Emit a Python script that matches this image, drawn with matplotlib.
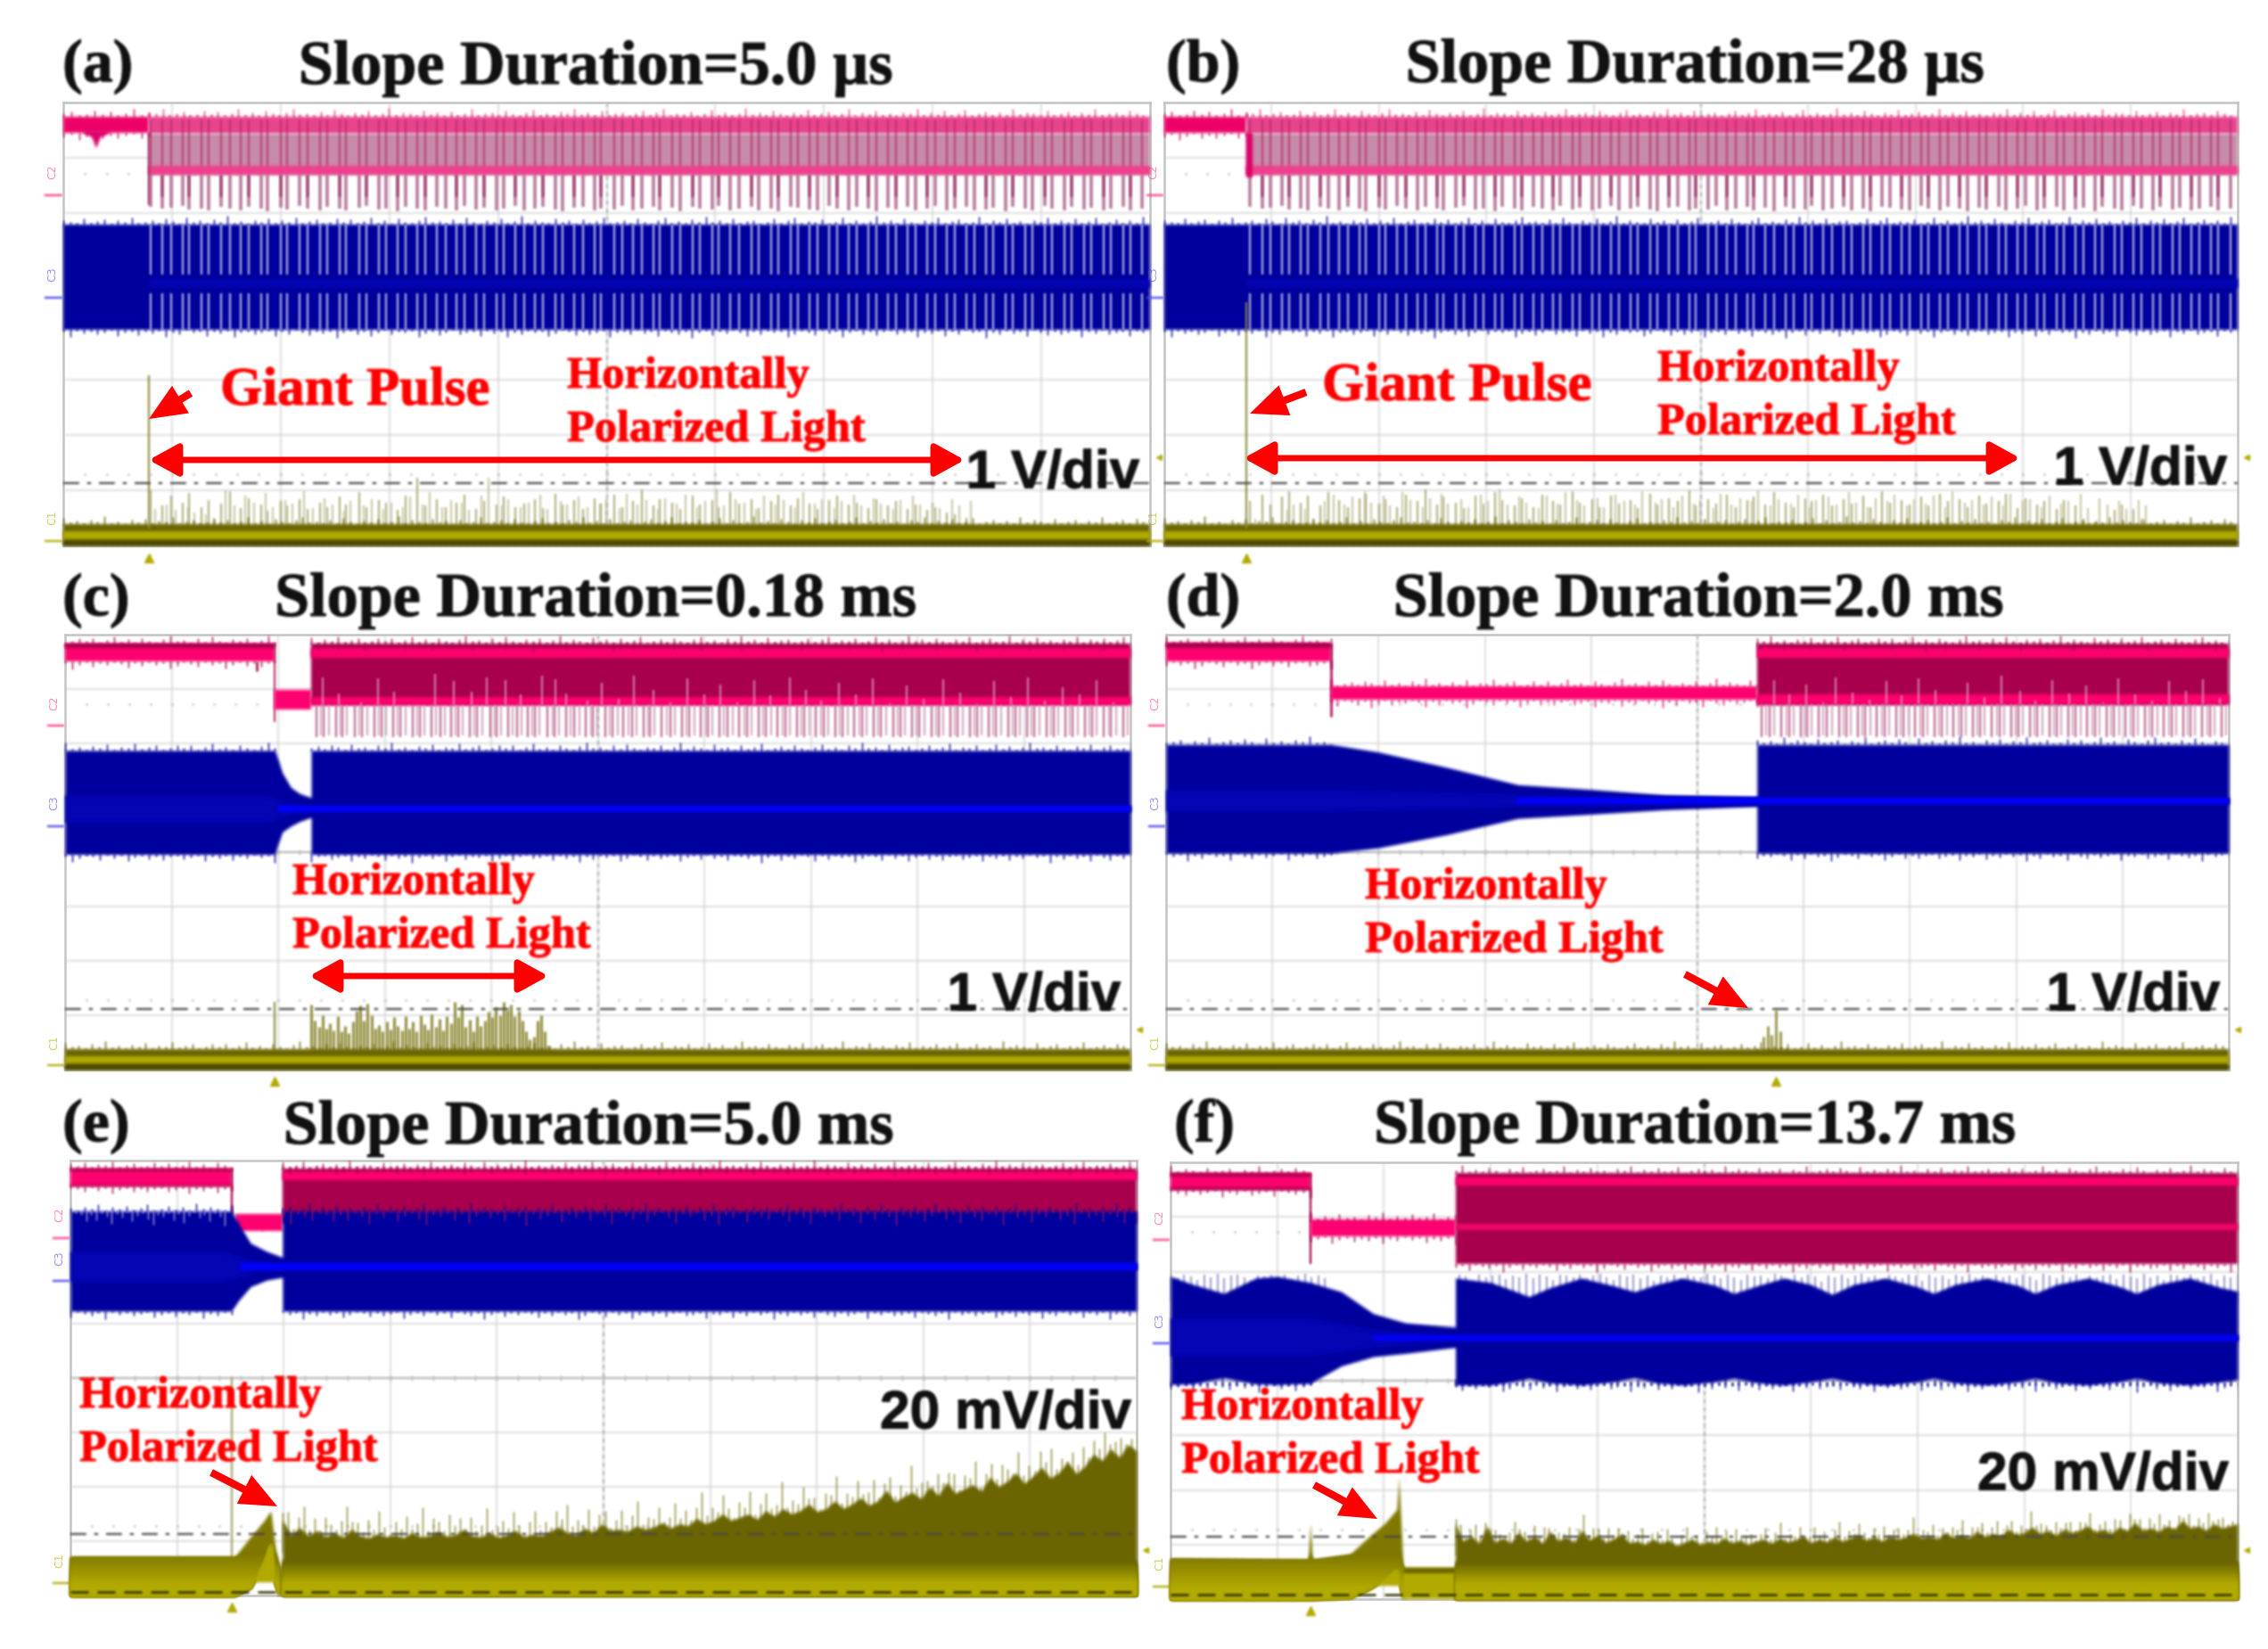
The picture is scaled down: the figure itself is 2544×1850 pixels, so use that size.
import numpy as np
import matplotlib
matplotlib.use('Agg')
import matplotlib.pyplot as plt
import matplotlib.patheffects as pe
from matplotlib.colors import to_rgb
from matplotlib.patches import FancyArrowPatch

W, H = 2544, 1850

# all trace values are in scope divisions: x 0-10 from left, y 0-8 from top
comb_x = [0.80,0.91,0.99,1.10,1.16,1.27,1.34,1.45,1.53,1.63,1.71,1.82,1.88,2.00,2.06,2.17,2.25,2.36,2.43,2.54,
          2.60,2.72,2.79,2.90,2.97,3.08,3.15,3.26,3.33,3.44,3.52,3.62,3.69,3.80,3.87,3.99,4.05,4.16,4.24,4.34,
          4.41,4.53,4.59,4.70,4.78,4.89,4.95,5.07,5.14,5.24,5.32,5.43,5.49,5.60,5.68,5.79,5.86,5.97,6.03,6.14,
          6.22,6.33,6.40,6.51,6.58,6.69,6.76,6.87,6.94,7.05,7.12,7.23,7.30,7.41,7.48,7.59,7.66,7.77,7.84,7.95,
          8.02,8.13,8.20,8.31,8.38,8.49,8.56,8.67,8.74,8.85,8.92,9.03,9.10,9.21,9.28,9.39,9.46,9.57,9.64,9.75,
          9.82,9.93]
pink_tail = [1.88,1.92,1.90,1.86,1.93,1.91,1.95,1.89,1.92,1.94,1.88,1.91,1.96,1.90,1.93,1.87,1.92,1.95,1.89,1.91,
             1.94,1.90,1.86,1.93,1.92,1.96,1.88,1.91,1.94,1.89,1.92,1.95,1.87,1.93,1.90,1.94,1.91,1.86,1.95,1.92,
             1.89,1.93,1.96,1.90,1.88,1.94,1.91,1.93,1.87,1.95,1.92,1.89,1.94,1.90,1.96,1.88,1.92,1.93,1.86,1.95,
             1.91,1.89,1.94,1.92,1.96,1.88,1.90,1.93,1.95,1.87,1.92,1.94,1.89,1.91,1.96,1.90,1.93,1.88,1.95,1.92,
             1.86,1.94,1.91,1.89,1.95,1.93,1.90,1.96,1.88,1.92,1.94,1.87,1.91,1.95,1.89,1.93,1.90,1.94,1.92,1.88,
             1.95,1.91]
# scope noise sticking out of the trace edges
edge_fuzz = [0.04,0.09,0.02,0.06,0.13,0.03,0.07,0.01,0.10,0.05,0.02,0.08,0.14,0.04,0.06,0.02,0.09,0.03,0.12,0.05,
             0.01,0.07,0.04,0.10,0.02,0.06,0.15,0.03,0.08,0.05,0.02,0.11,0.04,0.07,0.01,0.09,0.03,0.06,0.13,0.02,
             0.05,0.08,0.03,0.10,0.04,0.01,0.07,0.12,0.03,0.06,0.02,0.09,0.05,0.14,0.04,0.07,0.02,0.11,0.03,0.06,
             0.08,0.01,0.05,0.10,0.03,0.07,0.13,0.02,0.06,0.04,0.09,0.01,0.05,0.12,0.03,0.08,0.02,0.06,0.15,0.04,
             0.07,0.03,0.10,0.05,0.01,0.08,0.04,0.12,0.02,0.06,0.09,0.03,0.05,0.14,0.02,0.07,0.04,0.11,0.03,0.06,
             0.01,0.08,0.05,0.13,0.02,0.07,0.04,0.10,0.03,0.06,0.12,0.01,0.05,0.09,0.03,0.07,0.02,0.14,0.04,0.08,
             0.05,0.02,0.11,0.03,0.06,0.09,0.01,0.07,0.04,0.13,0.02,0.05,0.08,0.03,0.10,0.06,0.01,0.12,0.04,0.07,
             0.02,0.09,0.05,0.15,0.03,0.06,0.01,0.08,0.04,0.11,0.02,0.07,0.05,0.13,0.03,0.06,0.09,0.02,0.04,0.10]

a_spikes = [7.00,7.28,7.10,7.22,7.05,7.30,7.18,7.24,7.02,7.32,7.14,7.26,7.38,7.20,7.28,7.16,7.34,7.22,7.30,7.12,
            7.26,7.04,7.30,7.18,7.22,7.36,7.10,6.78,7.28,7.16,7.30,7.22,7.08,7.34,7.20,7.26,7.12,7.30,7.24,7.16,
            7.32,7.06,7.26,7.18,7.34,7.14,7.24,7.08,7.30,7.20,6.98,7.28,7.16,7.22,7.34,7.10,7.26,7.18,7.30,7.04,
            7.24,7.16,7.32,7.20,7.08,7.28,7.14,7.24,7.34,7.18,7.10,7.26,7.22,7.32,7.16,7.28,7.20,7.34,7.26,7.36,
            7.30,7.40,7.44,7.50]
b_spikes = [7.20,7.08,7.26,7.12,7.02,7.22,7.10,7.28,7.04,7.18,7.30,7.14,7.06,7.24,7.16,7.30,7.08,7.20,6.98,7.26,
            7.12,7.22,7.32,7.10,7.24,7.04,7.18,7.28,7.14,7.30,7.08,7.20,7.26,7.02,7.22,7.16,7.30,7.10,7.24,7.18,
            7.32,7.06,7.26,7.14,7.20,7.00,7.28,7.16,7.24,7.08,7.30,7.18,7.12,7.26,7.04,7.22,7.30,7.14,7.20,7.08,
            7.28,7.16,7.24,7.10,7.30,7.02,7.22,7.18,7.26,7.12,7.28,7.06,7.20,7.16,7.30,7.10,7.24,7.20,7.06,7.32,
            7.14,7.26,7.20,7.34,7.18,7.28,7.52,7.58,7.58,7.36,7.26,7.34,7.52]
c_spikes = [6.80,7.10,7.22,7.00,7.25,7.14,7.28,7.02,7.30,7.20,7.32,7.12,6.92,6.82,7.10,6.78,7.00,7.24,7.18,7.30,
            7.12,7.26,7.04,7.20,7.28,7.02,7.24,7.12,7.30,7.00,7.16,7.26,6.98,7.22,7.06,7.28,7.02,7.14,6.75,7.04,
            6.80,7.22,7.08,7.30,7.02,7.20,7.10,6.94,7.04,6.86,7.00,6.76,6.90,6.80,7.02,6.92,7.10,7.30,7.44,7.40,
            7.10,7.00,7.30,7.55]
d_spike_x = [5.56,5.62,5.66,5.70,5.74,5.78,5.84]
d_spike_top = [7.62,7.40,7.20,7.36,6.90,7.30,7.60]

c_up_x = [2.42,2.57,2.78,2.94,3.09,3.23,3.47,3.65,3.82,3.96,4.13,4.28,4.48,4.60,4.70,4.90,5.04,5.20,5.34,5.52,5.68,
          5.84,6.00,6.15,6.31,6.47,6.62,6.80,6.95,7.10,7.26,7.42,7.58,7.74,7.90,8.06,8.24,8.40,8.56,8.72,8.88,9.04,
          9.20,9.36,9.52,9.68,9.84]
c_up_top = [0.78,1.08,1.24,0.80,1.05,1.35,0.72,0.85,1.05,0.78,0.84,1.10,0.75,0.82,1.08,1.22,0.88,1.18,0.76,1.02,1.24,
            0.80,1.10,0.92,1.24,0.84,1.12,0.78,1.02,1.22,0.88,1.10,0.80,1.26,0.94,1.18,0.82,1.06,1.28,0.86,1.14,0.78,
            1.22,0.96,1.10,0.84,1.24]
d_up_x = [5.72,5.86,6.02,6.18,6.30,6.46,6.62,6.78,6.92,7.08,7.24,7.40,7.54,7.70,7.86,8.04,8.18,8.34,8.50,8.66,8.82,
          8.96,9.12,9.28,9.44,9.60,9.76,9.92]
d_up_top = [0.84,1.10,0.92,1.24,0.78,1.06,1.20,0.86,1.12,0.80,1.02,1.26,0.88,1.14,0.76,1.04,1.22,0.84,1.08,0.94,1.24,
            0.80,1.10,1.22,0.86,1.04,0.82,1.16]

# blue envelope of the whole trace: x, upper edge, lower edge
c_blue_x = [0.00,1.97,2.00,2.04,2.12,2.20,2.31,2.31,10.0]
c_blue_top = [2.13,2.13,2.30,2.54,2.81,2.92,3.00,2.13,2.13]
c_blue_low = [4.04,4.04,3.85,3.63,3.52,3.44,3.36,4.04,4.04]
d_blue_x = [0.00,1.55,2.00,2.64,3.31,4.02,4.70,5.56,5.56,10.0]
d_blue_top = [2.02,2.02,2.16,2.44,2.76,2.85,2.95,2.98,2.02,2.02]
d_blue_low = [4.02,4.02,3.92,3.68,3.38,3.30,3.22,3.16,4.02,4.02]
e_blue_x = [0.00,1.51,1.58,1.69,1.84,1.99,1.99,10.0]
e_blue_top = [0.93,0.93,1.16,1.52,1.67,1.78,0.93,0.93]
e_blue_low = [2.77,2.77,2.57,2.32,2.20,2.15,2.77,2.77]
f_blue_x = [0.00,0.20,0.50,0.80,1.00,1.31,1.60,1.90,2.20,2.67,2.67,3.00,3.20,3.36,3.55,3.85,4.15,4.35,4.55,4.80,5.10,
            5.28,5.50,5.75,6.00,6.20,6.40,6.70,7.00,7.15,7.35,7.65,7.95,8.10,8.30,8.60,8.90,9.05,9.25,9.55,9.85,10.0]
f_blue_top = [2.09,2.23,2.40,2.12,2.09,2.20,2.37,2.77,2.94,3.02,2.12,2.20,2.34,2.46,2.30,2.12,2.26,2.37,2.24,2.12,2.25,
              2.40,2.26,2.12,2.24,2.42,2.24,2.12,2.28,2.40,2.24,2.12,2.26,2.40,2.24,2.12,2.28,2.40,2.24,2.12,2.30,2.36]
f_blue_low = [4.07,4.06,3.95,4.06,4.07,4.05,3.73,3.56,3.50,3.39,4.08,4.08,4.02,3.96,4.04,4.08,4.02,3.95,4.04,4.08,4.02,
              3.96,4.04,4.08,4.02,3.96,4.04,4.08,4.02,3.96,4.04,4.08,4.02,3.96,4.04,4.08,4.02,3.96,4.04,4.08,4.02,3.98]
# brighter core of the blue trace, narrowing along the slope
c_core_x = [0.00,1.90,2.10,2.31,10.0]
c_core_top = [2.95,2.95,3.08,3.14,3.14]
c_core_low = [3.45,3.45,3.32,3.26,3.26]
d_core_x = [0.00,1.55,3.30,5.56,10.0]
d_core_top = [2.85,2.85,2.92,3.00,3.00]
d_core_low = [3.25,3.25,3.18,3.12,3.12]
e_core_x = [0.00,1.45,1.75,1.99,10.0]
e_core_top = [1.67,1.67,1.84,1.89,1.89]
e_core_low = [2.23,2.23,2.06,2.01,2.01]
f_core_x = [0.00,1.30,1.90,2.67,10.0]
f_core_top = [2.85,2.85,3.05,3.16,3.16]
f_core_low = [3.55,3.55,3.40,3.27,3.27]

# olive trace, panels e and f
e_ramp_x = [0.00,1.54,1.69,1.81,1.88,1.92,1.96]
e_ramp_top = [7.29,7.29,6.92,6.64,6.44,7.09,7.49]
e_ramp_low = [8.00,8.00,7.85,7.40,7.04,7.77,8.00]
e_right_top = [6.62,6.88,6.75,6.90,6.80,6.92,6.84,6.93,6.78,6.90,6.94,6.86,6.92,6.88,6.94,6.84,6.92,6.90,6.82,6.91,
               6.88,6.78,6.90,6.92,6.84,6.93,6.88,6.80,6.92,6.87,6.90,6.82,6.74,6.84,6.88,6.76,6.84,6.68,6.80,6.78,
               6.82,6.72,6.78,6.74,6.66,6.76,6.68,6.72,6.58,6.68,6.62,6.50,6.62,6.56,6.50,6.60,6.44,6.54,6.40,6.50,
               6.44,6.32,6.46,6.40,6.26,6.40,6.32,6.20,6.34,6.26,6.06,6.28,6.18,6.10,6.22,6.00,6.16,5.92,6.12,6.04,
               5.96,6.08,5.82,6.00,5.90,5.74,5.94,5.80,5.64,5.84,5.74,5.54,5.76,5.62,5.40,5.52,5.30,5.46,5.22,5.34]
f_ramp_x = [0.00,1.29,1.31,1.33,1.68,1.87,2.01,2.12,2.14,2.18]
f_ramp_top = [7.26,7.28,6.60,7.28,7.18,6.84,6.61,6.36,5.76,7.43]
f_ramp_low = [8.00,8.00,8.00,8.00,7.97,7.80,7.62,7.45,7.60,8.00]
f_right_top = [6.62,6.94,6.84,6.98,6.66,6.96,6.88,6.97,6.78,6.94,6.84,6.98,6.76,6.93,6.86,6.96,6.74,6.92,6.82,6.96,
               6.90,6.80,6.97,6.94,7.00,6.90,6.98,6.92,7.02,6.96,6.90,7.00,6.94,6.98,6.88,6.97,6.92,7.00,6.94,6.90,
               6.98,6.88,6.95,6.92,6.84,6.97,6.90,6.95,6.86,6.94,6.88,6.82,6.92,6.86,6.94,6.84,6.90,6.86,6.80,6.88,
               6.84,6.90,6.78,6.87,6.82,6.88,6.76,6.85,6.80,6.84,6.72,6.82,6.78,6.68,6.80,6.74,6.83,6.72,6.78,6.74,
               6.66,6.77,6.72,6.80,6.68,6.75,6.60,6.74,6.70,6.76,6.66,6.72,6.56,6.70,6.66,6.74,6.62,6.70,6.66,6.62]

PINK, CRIMSON, MAUVE = '#ff0070', '#a8004c', '#c78aa8'
BLUE, BRIGHT, MIDBLUE, PALEBLUE = '#00009e', '#0000ff', '#0505b4', '#8f8fcc'
OLIVE, MID, YELLOW = '#6b6500', '#8e8700', '#b3ab00'
GRID = '#d6d6d6'
RED = '#ff0000'


def soften(img, dpi, pad=3):
    # small box blur, the reference is a scaled-up screenshot
    h, w = img.shape[:2]
    out = np.zeros((h + 2*pad, w + 2*pad, 4))
    out[pad:-pad, pad:-pad, :3] = img[:, :, :3] * img[:, :, 3:]
    out[pad:-pad, pad:-pad, 3] = img[:, :, 3]
    for axis in (0, 1):
        for _ in range(2):
            out = (np.roll(out, 1, axis) + out + np.roll(out, -1, axis)) / 3
    a = np.maximum(out[:, :, 3:], 1e-4)
    out[:, :, :3] = np.clip(out[:, :, :3] / a, 0, 1)
    return out, -pad, -pad


fig = plt.figure(figsize=(W/100, H/100), dpi=100, facecolor='white')


def panel(left, top, right, bottom, trig, thresh, side, labels):
    ax = fig.add_axes([left/W, 1-bottom/H, (right-left)/W, (bottom-top)/H])
    ax.set_xlim(0, 10)
    ax.set_ylim(8, 0)
    ax.set_xticks([])
    ax.set_yticks([])
    for s in ax.spines.values():
        s.set_color('#c4c4c4')
        s.set_linewidth(1.8)
    ax.vlines(np.arange(1, 10), 0, 8, color=GRID, lw=1.1)
    ax.hlines(np.arange(1, 8), 0, 10, color=GRID, lw=1.1)
    ax.vlines(5, 0, 8, color='#a8a8a8', lw=1.1, linestyles=(0, (3, 3)))
    ax.hlines(4, 0, 10, color='#b4b4b4', lw=1.1)
    tick_x = np.arange(0.2, 10, 0.2)
    ax.plot(tick_x, np.full(tick_x.size, 1.28), ls='', marker='.', ms=1.6, color='#b8b8b8')
    ax.plot(tick_x, np.full(tick_x.size, 6.72), ls='', marker='.', ms=1.6, color='#b8b8b8')
    ax.plot(tick_x, np.full(tick_x.size, 4), ls='', marker='|', ms=4, color='#bcbcbc')
    # trigger and level marks around the frame
    ax.plot([trig], [8.22], marker='^', ms=7, color='#b3ab00', clip_on=False, ls='')
    ax.plot([10.08], [side], marker='<', ms=5, color='#b3ab00', clip_on=False, ls='')
    for name, yy, col in labels:
        ax.text(-0.1, yy, name, color=col, fontsize=9, rotation=90, ha='center', va='center', alpha=0.6)
        ax.plot([-0.16, -0.02], [yy + 0.42, yy + 0.42], color=col, lw=1.6, clip_on=False)
    ax.hlines(thresh, 0, 10, color='#4a4a4a', lw=1.6, linestyles=(0, (8, 4, 2, 4)), zorder=6)
    return ax


def fuzz(ax, x0, x1, y0, y1, col, shift=0, lw=1.0):
    # noise spikes along the upper edge y0 and the lower edge y1 of a trace band
    n = max(2, int(len(edge_fuzz) * (x1 - x0) / 10))
    h = np.roll(edge_fuzz, shift)[:n]
    x = np.linspace(x0, x1, n)
    ax.vlines(x, y0 - h, y0 + 0.02, color=col, lw=lw, zorder=3)
    ax.vlines(x, y1 - 0.02, y1 + h[::-1], color=col, lw=lw, zorder=3)


def olive_strip(ax, top=7.62):
    ax.fill_between([0, 10], top, 8, color=OLIVE, lw=0, zorder=4)
    ax.fill_between([0, 10], top + 0.13, 7.88, color=YELLOW, lw=0, zorder=4)
    ax.fill_between([0, 10], 7.92, 8, color='#4a4600', lw=0, zorder=4)
    fuzz(ax, 0, 10, top, 8, OLIVE, shift=23)


def gradient(ax, x, top, low, y0, y1, c0, c1, steps=10):
    # shaded persistence of the olive trace, dark on top and yellow at the bottom
    x, top = np.asarray(x, dtype=float), np.asarray(top, dtype=float)
    c0, c1 = np.array(to_rgb(c0)), np.array(to_rgb(c1))
    ax.fill_between(x, top, low, color=tuple(c0), lw=0, zorder=4)
    for f in np.linspace(0, 1, steps):
        ax.fill_between(x, np.maximum(top, y0 + f*(y1 - y0)), low, color=tuple(c0 + f*(c1 - c0)), lw=0, zorder=4)


def finish(ax):
    for art in ax.get_children():
        if art not in ax.spines.values() and not isinstance(art, matplotlib.text.Text) and art is not ax.patch:
            art.set_agg_filter(soften)


ch = [('C2', 1.25, '#ff3d8b'), ('C3', 3.1, '#4a4af0'), ('C1', 7.5, '#b3ab00')]

# (a) and (b) share the same pulse train
for rect, trig, giant, spikes, name in [((71, 115, 1290, 612), 0.79, 4.92, a_spikes, 'a'),
                                        ((1306, 115, 2510, 612), 0.76, 3.6, b_spikes, 'b')]:
    ax = panel(*rect, trig, 6.87, 6.4, ch)
    x = np.array(comb_x)
    ax.fill_between([0, trig], 0.25, 0.55, color='#ef0068', lw=0, zorder=3)
    ax.fill_between([trig, 10], 0.25, 0.56, color='#e8448c', lw=0, zorder=3)
    ax.fill_between([trig, 10], 0.56, 1.30, color=MAUVE, lw=0, zorder=3)
    ax.vlines(x, 0.30, 1.30, color='#b8286e', lw=1.1, zorder=3)
    ax.vlines(x, 1.30, pink_tail, color='#b87a9c', lw=2.6, zorder=3)
    ax.vlines(x[1::3], 1.30, 1.70, color='#98285e', lw=1.2, zorder=3)
    ax.fill_between([trig, 10], 1.14, 1.30, color='#f0408e', lw=0, zorder=3)
    fuzz(ax, 0, trig, 0.25, 0.55, '#d00060', shift=5)
    fuzz(ax, trig, 10, 0.25, 0.25, '#e8448c', shift=9)
    if name == 'a':
        ax.fill_between([0.18, 0.26, 0.30, 0.34, 0.42], 0.5, [0.55, 0.62, 0.82, 0.62, 0.55], color='#e0006a', lw=0, zorder=3)
        ax.vlines(trig, 0.55, 1.85, color='#a8285e', lw=1.5, zorder=3)
    else:
        ax.fill_between([trig, trig + 0.06], 0.55, 1.35, color='#e0006a', lw=0, zorder=3)
    ax.fill_between([0, 10], 2.2, 4.1, color=BLUE, lw=0, zorder=3)
    fuzz(ax, 0, 10, 2.2, 4.1, BLUE, shift=41)
    ax.vlines(x, 2.2, 3.1, color='#b8b8e4', lw=1.5, zorder=3)
    ax.vlines(x, 3.45, 4.1, color='#b8b8e4', lw=1.5, zorder=3)
    ax.fill_between([trig, 10], 3.19, 3.35, color=MIDBLUE, lw=0, zorder=3)
    ax.vlines(x[:len(spikes)], spikes, 7.7, color='#a8a468', lw=1.3, zorder=3)
    ax.vlines(x[:len(spikes)] + 0.045, np.roll(spikes, 7), 7.7, color='#b8b488', lw=1.1, zorder=3)
    ax.vlines(trig, giant, 7.7, color='#8e8a40', lw=1.5, zorder=5)
    olive_strip(ax)
    finish(ax)

# (c)
ax = panel(73, 712, 1268, 1200, 1.97, 6.89, 7.26, ch)
comb = np.array(comb_x)
ax.fill_between([0, 1.97], 0.16, 0.49, color=PINK, lw=0, zorder=3)
ax.fill_between([0, 1.97], 0.16, 0.24, color=CRIMSON, lw=0, zorder=3)
ax.vlines(1.80, 0.49, 0.68, color=CRIMSON, lw=1.8, zorder=3)
ax.vlines(1.97, 0.16, 1.6, color=CRIMSON, lw=1.2, zorder=3)
ax.fill_between([1.97, 2.31], 1.01, 1.37, color=PINK, lw=0, zorder=3)
ax.fill_between([2.31, 10], 0.16, 1.30, color=CRIMSON, lw=0, zorder=3)
ax.fill_between([2.31, 10], 0.25, 0.42, color=PINK, lw=0, zorder=3)
ax.fill_between([2.31, 10], 1.14, 1.30, color=PINK, lw=0, zorder=3)
ax.vlines(comb[comb > 2.31], 1.30, 1.89, color='#c06a96', lw=1.6, zorder=3)
ax.vlines(comb[comb > 2.31] + 0.045, 1.30, 1.85, color='#c890ae', lw=1.2, zorder=3)
ax.vlines(c_up_x, c_up_top, 1.30, color='#e8a8c8', lw=1.1, zorder=3)
fuzz(ax, 0, 1.97, 0.16, 0.49, CRIMSON, shift=3)
fuzz(ax, 2.31, 10, 0.16, 0.16, CRIMSON, shift=11)
ax.fill_between(c_blue_x, c_blue_top, c_blue_low, color=BLUE, lw=0, zorder=3)
fuzz(ax, 0, 1.97, 2.13, 4.04, BLUE, shift=17)
fuzz(ax, 2.31, 10, 2.13, 4.04, BLUE, shift=29)
ax.fill_between(c_core_x, c_core_top, c_core_low, color=MIDBLUE, lw=0, zorder=3)
ax.fill_between([2.0, 10], 3.14, 3.26, color=BRIGHT, lw=0, zorder=3)
ax.vlines(1.97, 6.75, 7.7, color='#8e8a40', lw=1.5, zorder=3)
ax.vlines(np.linspace(2.31, 4.54, len(c_spikes)), c_spikes, 7.7, color='#8a8630', lw=2.0, zorder=3)
olive_strip(ax)
finish(ax)

# (d)
ax = panel(1308, 712, 2500, 1200, 5.74, 6.88, 7.26, ch)
ax.fill_between([0, 1.55], 0.16, 0.49, color=PINK, lw=0, zorder=3)
ax.fill_between([0, 1.55], 0.14, 0.24, color=CRIMSON, lw=0, zorder=3)
ax.vlines(1.55, 0.16, 1.5, color=CRIMSON, lw=1.8, zorder=3)
ax.fill_between([1.55, 5.56], 0.95, 1.2, color=PINK, lw=0, zorder=3)
ax.fill_between([5.56, 10], 0.16, 1.30, color=CRIMSON, lw=0, zorder=3)
ax.fill_between([5.56, 10], 0.25, 0.42, color=PINK, lw=0, zorder=3)
ax.fill_between([5.56, 10], 1.10, 1.28, color=PINK, lw=0, zorder=3)
ax.vlines(comb[comb > 5.56], 1.28, 1.89, color='#c06a96', lw=1.6, zorder=3)
ax.vlines(comb[comb > 5.56] + 0.045, 1.28, 1.85, color='#c890ae', lw=1.2, zorder=3)
ax.vlines(d_up_x, d_up_top, 1.28, color='#e8a8c8', lw=1.1, zorder=3)
fuzz(ax, 0, 1.55, 0.16, 0.49, CRIMSON, shift=7)
fuzz(ax, 1.55, 5.56, 0.95, 1.2, '#e0006a', shift=31)
fuzz(ax, 5.56, 10, 0.16, 0.16, CRIMSON, shift=19)
ax.fill_between(d_blue_x, d_blue_top, d_blue_low, color=BLUE, lw=0, zorder=3)
fuzz(ax, 0, 1.55, 2.02, 4.02, BLUE, shift=37)
fuzz(ax, 5.56, 10, 2.02, 4.02, BLUE, shift=47)
ax.fill_between(d_core_x, d_core_top, d_core_low, color=MIDBLUE, lw=0, zorder=3)
ax.fill_between([3.3, 10], 3.0, 3.12, color=BRIGHT, lw=0, zorder=3)
ax.vlines(d_spike_x, d_spike_top, 7.7, color='#8a8630', lw=1.8, zorder=3)
olive_strip(ax)
finish(ax)

# (e)
ax = panel(79, 1302, 1275, 1790, 1.51, 6.87, 7.16, [('C2', 1.0, '#ff3d8b'), ('C3', 1.8, '#4a4af0'), ('C1', 7.35, '#b3ab00')])
ax.fill_between([0, 1.51], 0.14, 0.48, color=PINK, lw=0, zorder=3)
ax.fill_between([0, 1.51], 0.14, 0.20, color=CRIMSON, lw=0, zorder=3)
ax.fill_between([0, 1.51], 0.44, 0.48, color=CRIMSON, lw=0, zorder=3)
ax.vlines(1.51, 0.14, 1.0, color=CRIMSON, lw=1.6, zorder=3)
ax.fill_between([1.55, 1.99], 0.99, 1.30, color=PINK, lw=0, zorder=3)
ax.fill_between([1.99, 10], 0.14, 1.16, color=CRIMSON, lw=0, zorder=3)
ax.fill_between([1.99, 10], 0.20, 0.36, color=PINK, lw=0, zorder=3)
fuzz(ax, 0, 1.51, 0.14, 0.48, CRIMSON, shift=13)
fuzz(ax, 1.99, 10, 0.14, 0.14, CRIMSON, shift=53)
ax.fill_between(e_blue_x, e_blue_top, e_blue_low, color=BLUE, lw=0, zorder=3)
fuzz(ax, 0, 1.51, 0.93, 2.77, BLUE, shift=61)
fuzz(ax, 1.99, 10, 0.93, 2.77, BLUE, shift=71)
# pale pulses of the pink trace showing over the blue band
ax.vlines(np.linspace(0.05, 1.45, 30), 0.90, np.roll(edge_fuzz, 3)[:30]*1.8 + 0.93, color='#a8a0d8', lw=1.0, zorder=3)
ax.vlines(np.linspace(2.0, 9.95, 120), 0.90, np.roll(edge_fuzz, 8)[:120]*1.8 + 0.93, color='#98186c', lw=1.0, zorder=3)
ax.fill_between(e_core_x, e_core_top, e_core_low, color=MIDBLUE, lw=0, zorder=3)
ax.fill_between([1.6, 10], 1.89, 2.01, color=BRIGHT, lw=0, zorder=3)
ax.vlines(1.51, 3.98, 7.6, color='#a8a468', lw=1.6, zorder=3)
gradient(ax, e_ramp_x, e_ramp_top, e_ramp_low, 7.2, 7.75, '#807900', YELLOW)
e_x = np.linspace(1.99, 10, len(e_right_top))
spike_x = np.linspace(1.99, 10, len(edge_fuzz))
ax.vlines(spike_x, np.interp(spike_x, e_x, e_right_top) - np.array(edge_fuzz)*3.6, 7.2, color='#8a8630', lw=1.0, zorder=4)
gradient(ax, e_x, e_right_top, 8, 7.35, 7.75, OLIVE, YELLOW)
ax.hlines(7.93, 0, 10, color='#333300', lw=1.8, linestyles=(0, (8, 4)), zorder=6)
finish(ax)

# (f)
ax = panel(1313, 1304, 2510, 1794, 1.31, 6.86, 7.1, [('C2', 1.0, '#ff3d8b'), ('C3', 2.9, '#4a4af0'), ('C1', 7.35, '#b3ab00')])
ax.fill_between([0, 1.31], 0.20, 0.51, color=PINK, lw=0, zorder=3)
ax.fill_between([0, 1.31], 0.20, 0.26, color=CRIMSON, lw=0, zorder=3)
ax.fill_between([0, 1.31], 0.46, 0.51, color=CRIMSON, lw=0, zorder=3)
ax.vlines(1.31, 0.2, 1.86, color=CRIMSON, lw=1.6, zorder=3)
ax.fill_between([1.31, 2.67], 1.05, 1.36, color=PINK, lw=0, zorder=3)
ax.fill_between([2.67, 10], 0.20, 1.86, color=CRIMSON, lw=0, zorder=3)
ax.fill_between([2.67, 10], 0.28, 0.42, color=PINK, lw=0, zorder=3)
ax.fill_between([2.67, 10], 1.13, 1.24, color='#f0086c', lw=0, zorder=3)
fuzz(ax, 0, 1.31, 0.20, 0.51, CRIMSON, shift=43)
fuzz(ax, 1.31, 2.67, 1.05, 1.36, CRIMSON, shift=67)
fuzz(ax, 2.67, 10, 0.20, 1.86, CRIMSON, shift=83)
pale_x = np.linspace(0, 10, len(edge_fuzz))
pale_x = pale_x[(pale_x < 1.45) | (pale_x > 2.67)]
ax.vlines(pale_x, 2.03 + np.array(edge_fuzz)[:pale_x.size], 2.55, color=PALEBLUE, lw=1.3, zorder=3)
ax.fill_between(f_blue_x, f_blue_top, f_blue_low, color=BLUE, lw=0, zorder=3)
fuzz(ax, 0, 1.31, 4.06, 4.06, BLUE, shift=89)
fuzz(ax, 2.67, 10, 4.06, 4.06, BLUE, shift=97)
ax.fill_between(f_core_x, f_core_top, f_core_low, color=MIDBLUE, lw=0, zorder=3)
ax.fill_between([1.9, 10], 3.16, 3.27, color=BRIGHT, lw=0, zorder=3)
gradient(ax, f_ramp_x, f_ramp_top, f_ramp_low, 7.15, 7.75, '#807900', YELLOW)
ax.fill_between([2.18, 2.67], 7.43, 8, color=YELLOW, lw=0, zorder=4)
ax.fill_between([2.18, 2.67], 7.43, 7.52, color=OLIVE, lw=0, zorder=4)
f_x = np.linspace(2.67, 10, len(f_right_top))
spike_x = np.linspace(2.67, 10, len(edge_fuzz))
ax.vlines(spike_x, np.interp(spike_x, f_x, f_right_top) - np.array(edge_fuzz)*2.2, 7.2, color='#8a8630', lw=1.0, zorder=4)
gradient(ax, f_x, f_right_top, 8, 7.3, 7.7, OLIVE, YELLOW)
ax.hlines(7.92, 0, 10, color='#333300', lw=1.8, linestyles=(0, (8, 4)), zorder=6)
finish(ax)

# labels and arrows on top, in figure pixels
top = fig.add_axes([0, 0, 1, 1], facecolor='none', zorder=20)
top.set_xlim(0, W)
top.set_ylim(H, 0)
top.axis('off')

SERIF = 'Liberation Serif'
texts = []
for s, xx, yy in [('(a)', 70, 75), ('(b)', 1308, 75), ('(c)', 70, 674), ('(d)', 1308, 674), ('(e)', 70, 1264), ('(f)', 1317, 1264)]:
    texts.append(top.text(xx, yy, s, family=SERIF, weight='bold', fontsize=49, ha='left', va='center', color='#111111'))
for s, xx, yy in [('Slope Duration=5.0 µs', 668, 77), ('Slope Duration=28 µs', 1901, 75),
                  ('Slope Duration=0.18 ms', 668, 674), ('Slope Duration=2.0 ms', 1905, 674),
                  ('Slope Duration=5.0 ms', 660, 1266), ('Slope Duration=13.7 ms', 1901, 1265)]:
    texts.append(top.text(xx, yy, s, family=SERIF, weight='bold', fontsize=50.5, ha='center', va='center', color='#111111'))
for xx, y1, y2 in [(636, 423, 483), (1859, 415, 475), (328, 991, 1051), (1531, 996, 1056), (89, 1567, 1627), (1325, 1580, 1640)]:
    texts.append(top.text(xx, y1, 'Horizontally', family=SERIF, weight='bold', fontsize=36.3, color=RED, ha='left', va='center'))
    texts.append(top.text(xx, y2, 'Polarized Light', family=SERIF, weight='bold', fontsize=36.3, color=RED, ha='left', va='center'))
for xx, yy in [(247, 439), (1483, 434)]:
    texts.append(top.text(xx, yy, 'Giant Pulse', family=SERIF, weight='bold', fontsize=43.8, color=RED, ha='left', va='center'))
for s, xx, yy in [('1 V/div', 1278, 532), ('1 V/div', 2498, 528), ('1 V/div', 1257, 1118), ('1 V/div', 2490, 1118),
                  ('20 mV/div', 1269, 1587), ('20 mV/div', 2500, 1656)]:
    texts.append(top.text(xx, yy, s, family='Liberation Sans', weight='bold', fontsize=43.5, color='#111111', ha='right', va='center'))
for t in texts:
    t.set_path_effects([pe.withStroke(linewidth=0.7, foreground=t.get_color())])
    t.set_agg_filter(soften)
for p0, p1 in [((214, 441), (167, 470)), ((1465, 440), (1402, 464)), ((1890, 1093), (1961, 1131)),
               ((237, 1652), (311, 1690)), ((1474, 1666), (1545, 1704))]:
    top.add_patch(FancyArrowPatch(p0, p1, arrowstyle='simple,head_width=26,head_length=30,tail_width=6',
                                  color=RED, lw=0, shrinkA=0, shrinkB=0))
for p0, p1 in [((167, 516), (1082, 516)), ((1395, 514), (2266, 514)), ((347, 1095), (615, 1095))]:
    top.add_patch(FancyArrowPatch(p0, p1, arrowstyle='<|-|>,head_width=11,head_length=20', color=RED, lw=5,
                                  shrinkA=0, shrinkB=0))

plt.savefig('out.png', dpi=100, facecolor='white')
